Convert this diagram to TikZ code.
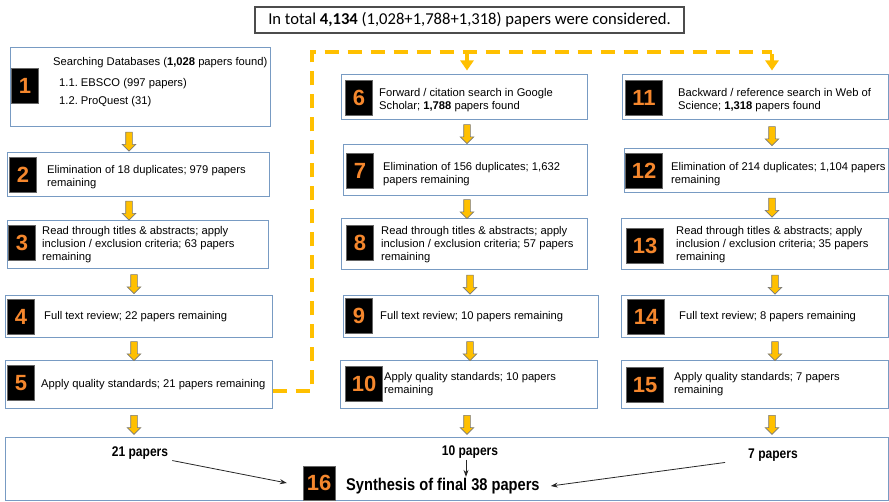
\documentclass[tikz,border=0pt]{standalone}
\usepackage{fontspec}
\setmainfont{Liberation Sans}
\newfontfamily\calfont{Carlito}
\newfontfamily\narrowfont[FakeStretch=0.86]{Liberation Sans}
\usetikzlibrary{calc,shapes.arrows,arrows.meta}
\definecolor{boxblue}{RGB}{120,155,195}
\definecolor{gold}{RGB}{255,192,0}
\definecolor{numorange}{RGB}{245,135,45}
\definecolor{arrgray}{RGB}{120,120,120}
\newcommand{\barr}[4]{\node[barrow] (#1) at ($(#2 |- #3.south)!0.5!(#2 |- #4.north)$) {};}
\frenchspacing
\begin{document}
\begin{tikzpicture}[x=1pt,y=-1pt,
 box/.style={draw=boxblue, line width=1pt, inner sep=0, rectangle},
 badge/.style={fill=black, draw=black!60, line width=0.4pt, text=numorange,
   font=\fontsize{22}{22}\selectfont\bfseries, inner sep=0, minimum height=35, minimum width=27},
 badgew/.style={badge, minimum width=37},
 txt/.style={anchor=west, align=left, inner sep=0, font=\fontsize{11.2}{13}\selectfont},
 barrow/.style={single arrow, draw=arrgray, fill=gold, line width=0.6pt, rotate=-90,
   minimum height=19, inner sep=3, single arrow head extend=3.5},
 dashline/.style={draw=gold, line width=4, dash pattern=on 14pt off 9pt},
 thinarr/.style={-{Stealth[length=7pt,width=5pt]}, line width=0.8pt, draw=black!85},
 lab/.style={inner sep=1, font=\narrowfont\fontsize{14}{14}\selectfont\bfseries}
]
\useasboundingbox (0,0) rectangle (889,502);

% top
\node[draw=black!70, line width=1.2pt, minimum width=429, minimum height=26, inner sep=0,
  font=\calfont\fontsize{16.6}{18}\selectfont] (top) at (469.5,20)
  {In total \textbf{4,134} (1,028+1,788+1,318) papers were considered.};

% column 1
\node[box, minimum width=260, minimum height=79] (b1) at (140,87.5) {};
\node[box, minimum width=262, minimum height=44] (b2) at (138,175) {};
\node[box, minimum width=261, minimum height=48] (b3) at (137.5,245) {};
\node[box, minimum width=267, minimum height=42] (b4) at (138.5,317) {};
\node[box, minimum width=267, minimum height=48] (b5) at (138.5,385) {};
\node[badge] (n1) at (25,86) {1};
\node[badge] (n2) at (23,175) {2};
\node[badge] (n3) at (22,243) {3};
\node[badge] (n4) at (21,317) {4};
\node[badge] (n5) at (21,383) {5};
\node[txt] (t1a) at (53,63) {Searching Databases (\textbf{1,028} papers found)};
\node[txt] (t1b) at (59,84) {1.1. EBSCO (997 papers)};
\node[txt] (t1c) at (59,102) {1.2. ProQuest (31)};
\node[txt] (t2) at (47,177) {Elimination of 18 duplicates; 979 papers\\remaining};
\node[txt] (t3) at (42,245) {Read through titles \& abstracts; apply\\inclusion / exclusion criteria; 63 papers\\remaining};
\node[txt] (t4) at (44,317) {Full text review; 22 papers remaining};
\node[txt] (t5) at (41,385) {Apply quality standards; 21 papers remaining};

% column 2
\node[box, minimum width=246, minimum height=45] (b6) at (464,97.5) {};
\node[box, minimum width=244, minimum height=51] (b7) at (465,170.5) {};
\node[box, minimum width=246, minimum height=51] (b8) at (464,244.5) {};
\node[box, minimum width=255, minimum height=42] (b9) at (470.5,317) {};
\node[box, minimum width=257, minimum height=48] (b10) at (468.5,385) {};
\node[badge] (n6) at (359,97.5) {6};
\node[badge] (n7) at (360,171) {7};
\node[badge] (n8) at (360,243) {8};
\node[badge] (n9) at (359,316) {9};
\node[badgew] (n10) at (364,384) {10};
\node[txt] (t6) at (379,100.5) {Forward / citation search in Google\\Scholar; \textbf{1,788} papers found};
\node[txt] (t7) at (383,174.5) {Elimination of 156 duplicates; 1,632\\papers remaining};
\node[txt] (t8) at (381,245) {Read through titles \& abstracts; apply\\inclusion / exclusion criteria; 57 papers\\remaining};
\node[txt] (t9) at (380,317) {Full text review; 10 papers remaining};
\node[txt] (t10) at (384,384.5) {Apply quality standards; 10 papers\\remaining};

% column 3
\node[box, minimum width=266, minimum height=45] (b11) at (755,97.5) {};
\node[box, minimum width=264, minimum height=44] (b12) at (756,171) {};
\node[box, minimum width=267, minimum height=51] (b13) at (754.5,244.5) {};
\node[box, minimum width=267, minimum height=42] (b14) at (754.5,317) {};
\node[box, minimum width=267, minimum height=48] (b15) at (754.5,385) {};
\node[badgew] (n11) at (644,97.5) {11};
\node[badgew] (n12) at (644,171) {12};
\node[badgew] (n13) at (645,246) {13};
\node[badgew] (n14) at (646,317) {14};
\node[badgew] (n15) at (645,385) {15};
\node[txt] (t11) at (678,100.5) {Backward / reference search in Web of\\Science; \textbf{1,318} papers found};
\node[txt] (t12) at (671,174.5) {Elimination of 214 duplicates; 1,104 papers\\remaining};
\node[txt] (t13) at (676,245) {Read through titles \& abstracts; apply\\inclusion / exclusion criteria; 35 papers\\remaining};
\node[txt] (t14) at (679,317) {Full text review; 8 papers remaining};
\node[txt] (t15) at (674,384.5) {Apply quality standards; 7 papers\\remaining};

% bottom box
\node[box, minimum width=883, minimum height=63] (b16) at (446.5,469) {};
\node[lab] (l21) at (140,453) {21 papers};
\node[lab] (l10) at (470,452) {10 papers};
\node[lab] (l7) at (773,455) {7 papers};
\node[badge, minimum width=32, minimum height=34] (n16) at (319,483) {16};
\node[lab, anchor=west, font=\narrowfont\fontsize{17}{17}\selectfont\bfseries] (s16) at (345,486) {Synthesis of final 38 papers};
\draw[thinarr] ([xshift=3pt]l21.south east) -- ([xshift=-16pt]n16.west);
\draw[thinarr] ([xshift=-4pt]l10.south) -- ([xshift=-4pt]l10.south |- s16.north);
\draw[thinarr] ([xshift=-22pt]l7.south west) -- ([xshift=10pt]s16.east);

% block arrows
\coordinate (xa) at (129,0);
\coordinate (xb) at (134,0);
\coordinate (xc) at (467,0);
\coordinate (xc2) at (470,0);
\coordinate (xd) at (772,0);
\coordinate (xd2) at (775,0);
\barr{a12}{xa}{b1}{b2}
\barr{a23}{xa}{b2}{b3}
\barr{a34}{xb}{b3}{b4}
\barr{a45}{xb}{b4}{b5}
\barr{a516}{xb}{b5}{b16}
\barr{a67}{xc}{b6}{b7}
\barr{a78}{xc}{b7}{b8}
\barr{a89}{xc2}{b8}{b9}
\barr{a910}{xc2}{b9}{b10}
\barr{a1016}{xc}{b10}{b16}
\barr{a1112}{xd}{b11}{b12}
\barr{a1213}{xd}{b12}{b13}
\barr{a1314}{xd2}{b13}{b14}
\barr{a1415}{xd2}{b14}{b15}
\barr{a1516}{xd}{b15}{b16}

% dashed connector
\coordinate (dc) at (312,52);
\draw[dashline] ([yshift=-6pt]b5.east) -| (dc) -- (dc -| xd);
\draw[draw=gold, line width=4, -{Triangle[width=13pt,length=10pt]}] ([yshift=-2pt]dc -| xc) -- ([yshift=4pt]xc |- b6.north);
\draw[draw=gold, line width=4, -{Triangle[width=13pt,length=10pt]}] ([yshift=-2pt]dc -| xd) -- ([yshift=4pt]xd |- b11.north);
\end{tikzpicture}
\end{document}
